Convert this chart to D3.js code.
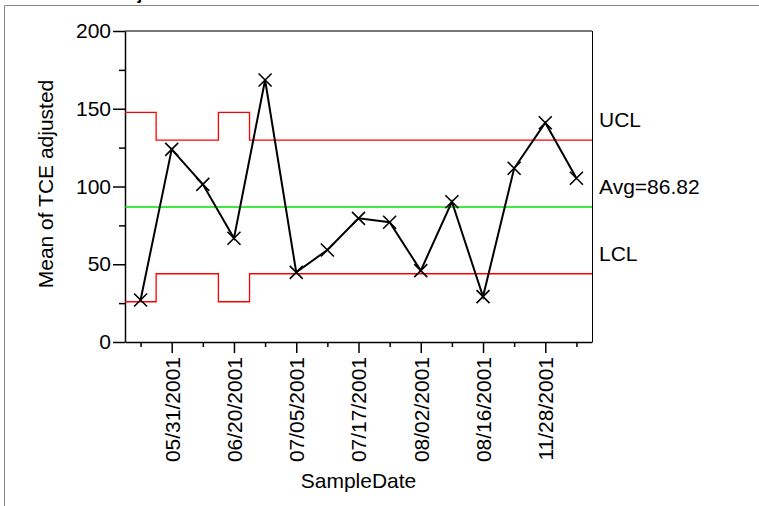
<!DOCTYPE html>
<html>
<head>
<meta charset="utf-8">
<script src="https://cdn.jsdelivr.net/npm/d3@7"></script>
<style>
  body { margin: 0; background: #fff; }
  svg { display: block; font-family: "Liberation Sans", Arial, sans-serif; }
</style>
</head>
<body>
<div id="chart"></div>
<script>
// sample dates (only every other one is labelled on the axis)
var dates = ["05/16/2001", "05/31/2001", "06/07/2001", "06/20/2001", "06/27/2001",
             "07/05/2001", "07/11/2001", "07/17/2001", "07/25/2001", "08/02/2001",
             "08/09/2001", "08/16/2001", "11/14/2001", "11/28/2001", "12/12/2001"];
var means = [27.0, 123.9, 101.4, 66.7, 168.5, 44.8, 59.2, 79.5, 77.0, 45.9,
             90.2, 29.2, 111.7, 141.0, 105.3];
var ucl = [147.7, 129.8, 129.8, 147.7, 129.8, 129.8, 129.8, 129.8, 129.8, 129.8,
           129.8, 129.8, 129.8, 129.8, 129.8];
var lcl = [25.9, 43.9, 43.9, 25.9, 43.9, 43.9, 43.9, 43.9, 43.9, 43.9,
           43.9, 43.9, 43.9, 43.9, 43.9];
var avg = 86.82;
var yTicks = [0, 25, 50, 75, 100, 125, 150, 175, 200];

var W = 759, H = 506;
var plotL = 125, plotR = 592, plotT = 31, plotB = 342;

var svg = d3.select("#chart").append("svg")
    .attr("width", W).attr("height", H);

// outer frame
svg.append("path")
    .attr("d", "M4.5," + H + "V5.5H" + W)
    .attr("fill", "none").attr("stroke", "#888").attr("stroke-width", 1);

// title, mostly above the window
svg.append("text")
    .attr("x", 10).attr("y", 0)
    .attr("font-size", 17).attr("font-weight", "bold")
    .text("Mean of TCE adjusted");

var x = d3.scalePoint().domain(dates).range([plotL, plotR]).padding(0.5);
var y = d3.scaleLinear().domain([0, 200]).range([plotB, plotT]);
var step = x.step();

// plot box
svg.append("line").attr("x1", plotL).attr("x2", plotR).attr("y1", plotT).attr("y2", plotT)
    .attr("stroke", "#777").attr("stroke-width", 2);
svg.append("line").attr("x1", plotR + 0.5).attr("x2", plotR + 0.5).attr("y1", plotT).attr("y2", plotB)
    .attr("stroke", "#000").attr("stroke-width", 1);

// y axis
var yAxis = svg.append("g")
    .attr("transform", "translate(" + plotL + ",0)")
    .call(d3.axisLeft(y).tickValues(yTicks).tickSizeOuter(0)
      .tickFormat(function(d) { return d % 50 === 0 ? d : ""; }));
yAxis.select(".domain").attr("stroke-width", 1.5);
yAxis.selectAll(".tick line")
    .attr("x2", function(d) { return d % 50 === 0 ? -12 : -6; })
    .attr("stroke-width", 1.5);
yAxis.selectAll(".tick text")
    .attr("x", -14).attr("font-size", 21).attr("fill", "#000")
    .attr("font-family", "Liberation Sans, Arial, sans-serif");

// x axis
var xAxis = svg.append("g")
    .attr("transform", "translate(0," + plotB + ")")
    .call(d3.axisBottom(x).tickSizeOuter(0)
      .tickFormat(function(d, i) { return i % 2 === 1 ? d : ""; }));
xAxis.select(".domain").attr("stroke-width", 1.5);
xAxis.selectAll(".tick line")
    .attr("y2", function(d, i) { return i % 2 === 1 ? 11 : 5; })
    .attr("stroke-width", 1.5);
xAxis.selectAll(".tick text")
    .attr("transform", "rotate(-90)")
    .attr("x", -15).attr("y", 0).attr("dy", "0.35em")
    .attr("text-anchor", "end")
    .attr("font-size", 21).attr("fill", "#000")
    .attr("font-family", "Liberation Sans, Arial, sans-serif");

// control limits as steps
function limitPts(vals) {
  var pts = vals.map(function(v, i) { return [x(dates[i]) - step / 2, y(v)]; });
  pts.push([plotR, y(vals[vals.length - 1])]);
  return pts;
}
var stepLine = d3.line().curve(d3.curveStepAfter);

svg.append("path").attr("d", stepLine(limitPts(ucl)))
    .attr("fill", "none").attr("stroke", "#ff0000").attr("stroke-width", 1.3);
svg.append("path").attr("d", stepLine(limitPts(lcl)))
    .attr("fill", "none").attr("stroke", "#ff0000").attr("stroke-width", 1.3);
svg.append("line")
    .attr("x1", plotL).attr("x2", plotR).attr("y1", y(avg)).attr("y2", y(avg))
    .attr("stroke", "#00e000").attr("stroke-width", 1.3);

// series line
var line = d3.line()
    .x(function(d, i) { return x(dates[i]); })
    .y(function(d) { return y(d); });
svg.append("path").datum(means).attr("d", line)
    .attr("fill", "none").attr("stroke", "#000").attr("stroke-width", 2);

// X markers
var r = 6.5;
svg.append("g").selectAll("path").data(means).enter().append("path")
    .attr("d", function(d, i) {
      var cx = x(dates[i]), cy = y(d);
      return "M" + (cx - r) + "," + (cy - r) + "L" + (cx + r) + "," + (cy + r) +
             "M" + (cx - r) + "," + (cy + r) + "L" + (cx + r) + "," + (cy - r);
    })
    .attr("stroke", "#000").attr("stroke-width", 1.6).attr("fill", "none");

// limit labels
var labels = [["UCL", ucl[ucl.length - 1]], ["Avg=" + avg.toFixed(2), avg], ["LCL", lcl[lcl.length - 1]]];
svg.append("g").selectAll("text").data(labels).enter().append("text")
    .attr("x", 599)
    .attr("y", function(d) { return y(d[1]) - 13; })
    .attr("font-size", 21)
    .text(function(d) { return d[0]; });

// axis titles
svg.append("text")
    .attr("x", (plotL + plotR) / 2).attr("y", 488)
    .attr("text-anchor", "middle").attr("font-size", 21)
    .text("SampleDate");
svg.append("text")
    .attr("transform", "translate(53," + 184 + ") rotate(-90)")
    .attr("text-anchor", "middle").attr("font-size", 21)
    .text("Mean of TCE adjusted");
</script>
</body>
</html>
